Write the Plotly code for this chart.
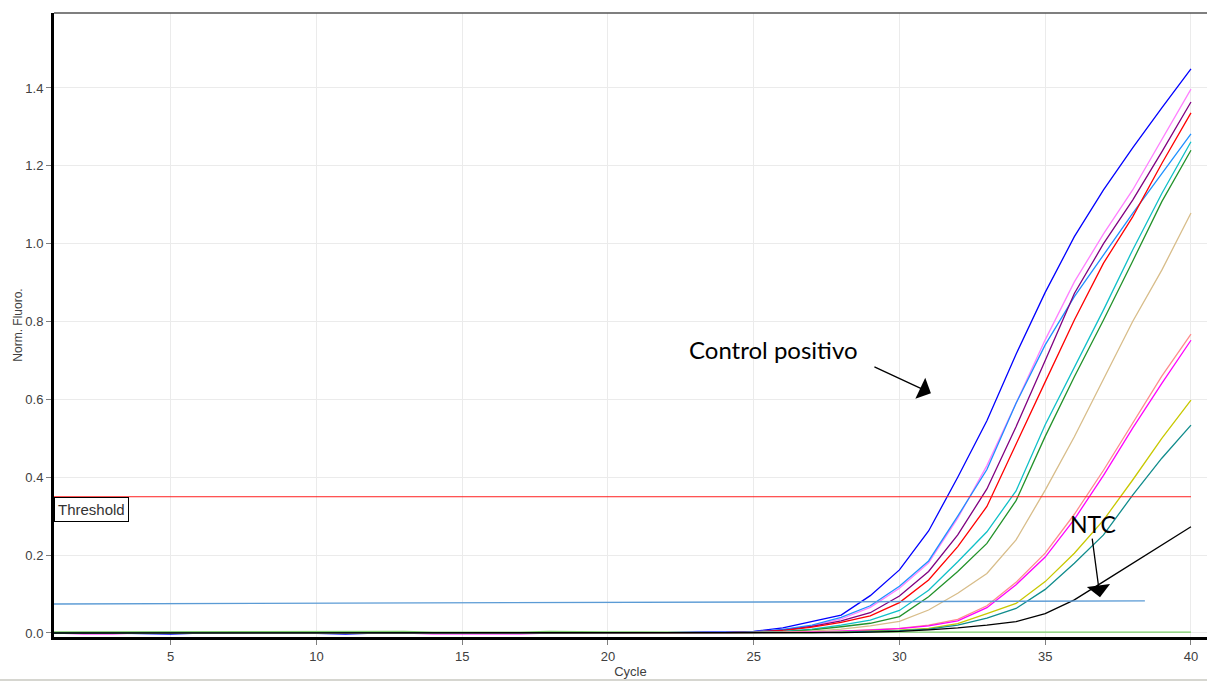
import plotly.graph_objects as go

# Amplification cycles
cycles = list(range(1, 41))

# Normalised fluorescence per sample, cycles 1..40
blue = [0.000, 0.001, 0.000, -0.002, -0.003, 0.000, 0.001, 0.000, 0.000, -0.001,
        -0.003, 0.000, 0.001, 0.000, 0.000, 0.001, 0.000, 0.000, 0.001, 0.000,
        0.000, 0.001, 0.002, 0.002, 0.004, 0.013, 0.029, 0.046, 0.096, 0.162,
        0.262, 0.400, 0.545, 0.716, 0.875, 1.018, 1.138, 1.246, 1.349, 1.449]
pink = [0.000, 0.000, 0.001, 0.000, 0.000, 0.001, 0.000, 0.000, 0.001, 0.000,
        0.000, 0.000, 0.001, 0.000, 0.000, 0.000, 0.001, 0.000, 0.000, 0.000,
        0.001, 0.000, 0.001, 0.002, 0.003, 0.008, 0.018, 0.036, 0.066, 0.115,
        0.180, 0.295, 0.430, 0.590, 0.753, 0.902, 1.025, 1.138, 1.266, 1.397]
dodger = [0.000, 0.000, 0.000, 0.001, 0.000, 0.000, 0.000, 0.001, 0.000, 0.000,
          0.001, 0.000, 0.000, 0.000, 0.001, 0.000, 0.000, 0.000, 0.001, 0.000,
          0.000, 0.000, 0.001, 0.002, 0.003, 0.009, 0.020, 0.040, 0.070, 0.120,
          0.185, 0.300, 0.420, 0.590, 0.740, 0.864, 0.970, 1.078, 1.180, 1.282]
purple = [0.000, 0.000, 0.000, 0.000, 0.001, 0.000, 0.000, 0.000, 0.000, 0.001,
          0.000, 0.000, 0.000, 0.000, 0.000, 0.001, 0.000, 0.000, 0.000, 0.000,
          0.001, 0.000, 0.000, 0.001, 0.003, 0.007, 0.017, 0.031, 0.052, 0.095,
          0.158, 0.252, 0.370, 0.530, 0.700, 0.872, 1.000, 1.112, 1.236, 1.364]
red = [0.000, 0.000, 0.001, 0.000, 0.000, 0.000, 0.000, 0.000, 0.001, 0.000,
       0.000, 0.000, 0.000, 0.001, 0.000, 0.000, 0.000, 0.000, 0.000, 0.001,
       0.000, 0.000, 0.000, 0.001, 0.002, 0.006, 0.015, 0.027, 0.044, 0.078,
       0.136, 0.222, 0.325, 0.487, 0.645, 0.804, 0.950, 1.069, 1.206, 1.336]
cyan = [0.000, 0.001, 0.000, 0.000, 0.000, 0.000, 0.001, 0.000, 0.000, 0.000,
        0.000, 0.001, 0.000, 0.000, 0.000, 0.000, 0.000, 0.001, 0.000, 0.000,
        0.000, 0.000, 0.001, 0.001, 0.002, 0.004, 0.010, 0.020, 0.033, 0.058,
        0.110, 0.183, 0.260, 0.365, 0.535, 0.684, 0.830, 0.984, 1.129, 1.262]
green = [0.001, 0.000, 0.000, 0.000, 0.000, 0.001, 0.000, 0.000, 0.000, 0.000,
         0.001, 0.000, 0.000, 0.000, 0.000, 0.000, 0.001, 0.000, 0.000, 0.000,
         0.000, 0.001, 0.000, 0.001, 0.001, 0.003, 0.008, 0.016, 0.025, 0.042,
         0.093, 0.158, 0.230, 0.340, 0.505, 0.658, 0.804, 0.955, 1.108, 1.240]
tan = [0.000, 0.000, 0.000, 0.001, 0.000, 0.000, 0.000, 0.000, 0.001, 0.000,
       0.000, 0.000, 0.000, 0.000, 0.001, 0.000, 0.000, 0.000, 0.000, 0.000,
       0.001, 0.000, 0.000, 0.000, 0.001, 0.002, 0.005, 0.010, 0.018, 0.030,
       0.059, 0.102, 0.153, 0.239, 0.367, 0.504, 0.650, 0.800, 0.932, 1.079]
salmon = [0.000, 0.000, 0.000, 0.000, 0.000, 0.000, 0.000, 0.001, 0.000, 0.000,
          0.000, 0.000, 0.000, 0.000, 0.000, 0.000, 0.000, 0.000, 0.000, 0.000,
          -0.001, 0.000, 0.000, 0.000, 0.001, 0.001, 0.003, 0.005, 0.008, 0.012,
          0.020, 0.035, 0.070, 0.130, 0.205, 0.305, 0.418, 0.540, 0.660, 0.768]
magenta = [0.000, -0.002, -0.002, 0.000, 0.000, 0.000, 0.000, 0.000, 0.000, 0.000,
           0.000, 0.000, 0.000, -0.002, -0.002, -0.002, -0.002, 0.000, 0.000, 0.000,
           0.000, 0.000, 0.000, 0.000, 0.000, 0.001, 0.002, 0.004, 0.007, 0.011,
           0.018, 0.031, 0.065, 0.124, 0.195, 0.292, 0.405, 0.526, 0.641, 0.752]
yellow = [0.000, 0.000, 0.000, 0.000, 0.000, 0.000, 0.000, 0.000, 0.000, 0.000,
          0.000, 0.000, 0.000, 0.000, 0.000, 0.000, 0.000, 0.000, 0.000, 0.000,
          0.000, 0.000, 0.000, 0.000, 0.000, 0.001, 0.001, 0.003, 0.005, 0.007,
          0.012, 0.024, 0.050, 0.076, 0.132, 0.205, 0.290, 0.393, 0.500, 0.598]
teal = [0.000, 0.000, 0.000, 0.000, 0.000, 0.000, 0.000, 0.000, 0.000, 0.000,
        0.000, 0.000, 0.000, 0.000, 0.000, 0.000, 0.000, 0.000, 0.000, 0.000,
        0.000, 0.000, 0.000, 0.000, 0.000, 0.000, 0.001, 0.002, 0.004, 0.006,
        0.010, 0.020, 0.038, 0.063, 0.112, 0.179, 0.252, 0.354, 0.449, 0.534]
black = [0.000, 0.000, 0.000, 0.000, 0.000, 0.000, 0.000, 0.000, 0.000, 0.000,
         0.000, 0.000, 0.000, 0.000, 0.000, 0.000, 0.000, 0.000, 0.000, 0.000,
         0.000, 0.000, 0.001, 0.000, 0.000, 0.000, 0.000, 0.001, 0.002, 0.004,
         0.008, 0.013, 0.020, 0.029, 0.050, 0.085, 0.132, 0.179, 0.226, 0.273]
flat_green = [0.003, 0.003, 0.003, 0.003, 0.003, 0.003, 0.003, 0.003, 0.003, 0.003,
              0.003, 0.003, 0.004, 0.002, 0.002, 0.002, 0.002, 0.004, 0.003, 0.003,
              0.003, 0.002, 0.002, 0.002, 0.002, 0.002, 0.002, 0.002, 0.002, 0.002,
              0.002, 0.002, 0.002, 0.003, 0.003, 0.002, 0.002, 0.002, 0.002, 0.002]

samples = [
    (flat_green, "#7ccd6a"),
    (blue, "#0000ff"),
    (pink, "#ff80ff"),
    (dodger, "#1e90ff"),
    (purple, "#800080"),
    (red, "#ff0000"),
    (cyan, "#10c0c8"),
    (green, "#22922a"),
    (tan, "#d8bd8a"),
    (salmon, "#ff8c8c"),
    (magenta, "#ff00ff"),
    (yellow, "#c8c800"),
    (teal, "#108c8c"),
    (black, "#000000"),
]

# Threshold level and the reference baseline segment
threshold = 0.35
baseline_x = [0.6, 38.42]
baseline_y = [0.0745, 0.0825]

fig = go.Figure()

for values, color in samples:
    fig.add_trace(go.Scatter(x=cycles, y=values, mode="lines",
                             line=dict(color=color, width=1.3),
                             showlegend=False, hoverinfo="skip"))

fig.add_trace(go.Scatter(x=baseline_x, y=baseline_y, mode="lines",
                         line=dict(color="#5b9bd5", width=1.4),
                         showlegend=False, hoverinfo="skip"))

fig.add_trace(go.Scatter(x=[1, 40], y=[threshold, threshold], mode="lines",
                         line=dict(color="#ff2020", width=1),
                         showlegend=False, hoverinfo="skip"))

tick_font = dict(family="Liberation Sans, Arial, sans-serif", size=13, color="#404040")

fig.update_layout(
    width=1207, height=682,
    margin=dict(l=54, r=0, t=13, b=45),
    paper_bgcolor="white", plot_bgcolor="white",
    xaxis=dict(
        range=[1, 40.55],
        tickvals=[5, 10, 15, 20, 25, 30, 35, 40],
        showline=True, linewidth=3, linecolor="black",
        ticks="outside", ticklen=5, tickcolor="#808080", tickwidth=1,
        showgrid=True, gridcolor="#ebebeb", gridwidth=1,
        zeroline=False, tickfont=tick_font,
        title=dict(text="Cycle", standoff=0,
                   font=dict(family="Liberation Sans, Arial, sans-serif", size=13, color="#404040")),
    ),
    yaxis=dict(
        range=[-0.0103, 1.5926],
        tickvals=[0.0, 0.2, 0.4, 0.6, 0.8, 1.0, 1.2, 1.4],
        tickformat=".1f",
        showline=True, linewidth=3, linecolor="black",
        ticks="outside", ticklen=5, tickcolor="#808080", tickwidth=1,
        showgrid=True, gridcolor="#ebebeb", gridwidth=1,
        zeroline=False, tickfont=tick_font,
        title=dict(text="Norm. Fluoro.", standoff=0,
                   font=dict(family="Liberation Sans, Arial, sans-serif", size=12, color="#404040")),
    ),
    shapes=[
        dict(type="line", xref="paper", yref="paper", x0=0, x1=1, y0=1, y1=1,
             line=dict(color="#555555", width=1.5)),
        dict(type="line", xref="paper", yref="paper", x0=-0.05, x1=1, y0=-0.069, y1=-0.069,
             line=dict(color="#c8c8c0", width=1.5)),
    ],
    annotations=[
        dict(xref="paper", x=0.0, yref="y", y=threshold, xanchor="left", yanchor="top",
             text="Threshold", showarrow=False, bgcolor="white",
             bordercolor="black", borderwidth=1, borderpad=3,
             font=dict(family="Liberation Sans, Arial, sans-serif", size=15, color="#333333")),
        dict(x=31.08, y=0.616, xref="x", yref="y", ax=-58, ay=-27,
             text="", showarrow=True, arrowhead=1, arrowsize=3, arrowwidth=1.3,
             arrowcolor="black"),
        dict(x=25.69, y=0.727, xref="x", yref="y", text="Control positivo",
             showarrow=False, xanchor="center", yanchor="middle",
             font=dict(family="Lato, Open Sans, sans-serif", size=24, color="black")),
        dict(x=36.88, y=0.092, xref="x", yref="y", ax=-8, ay=-60,
             text="", showarrow=True, arrowhead=1, arrowsize=3, arrowwidth=1.3,
             arrowcolor="black"),
        dict(x=36.65, y=0.28, xref="x", yref="y", text="NTC",
             showarrow=False, xanchor="center", yanchor="middle",
             font=dict(family="Lato, Open Sans, sans-serif", size=23, color="black")),
    ],
)

fig.write_html("out.html")
